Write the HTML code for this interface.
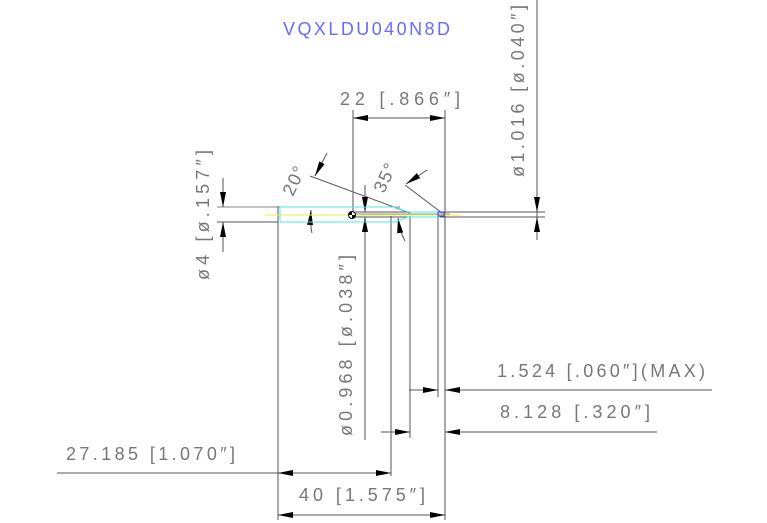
<!DOCTYPE html>
<html><head><style>
html,body{margin:0;padding:0;background:#fff;}
svg{display:block;}
text{font-family:"Liberation Sans",sans-serif;fill:#777;font-size:18px;}
</style></head><body>
<svg width="767" height="523" viewBox="0 0 767 523" xmlns="http://www.w3.org/2000/svg">
<defs>
<marker id="a" viewBox="0 0 10 4" refX="10" refY="2" markerWidth="16" markerHeight="6" markerUnits="userSpaceOnUse" orient="auto"><path d="M0,0L10,2L0,4z" fill="#000"/></marker>
</defs>
<g stroke="#555" stroke-width="1" fill="none">
<line x1="278" y1="206" x2="278" y2="520"/>
<line x1="391" y1="216" x2="391" y2="476"/>
<line x1="410" y1="216" x2="410" y2="438"/>
<line x1="438" y1="214" x2="438" y2="397"/>
<line x1="445" y1="110" x2="445" y2="520"/>
<line x1="353" y1="110" x2="353" y2="213"/>
<line x1="537" y1="0" x2="537" y2="240"/>
<line x1="355" y1="212" x2="545" y2="212"/>
<line x1="355" y1="217" x2="545" y2="217"/>
<line x1="217" y1="207" x2="400" y2="207" stroke="#888"/>
<line x1="217" y1="222" x2="278" y2="222"/>
<line x1="355" y1="214" x2="450" y2="214" stroke="#999"/>
<line x1="310" y1="176" x2="410" y2="213"/>
<line x1="405" y1="185" x2="442" y2="213"/>
<path d="M312,233 Q310,225 311,210" marker-end="url(#a)"/>
<path d="M405,241 Q400,232 398,218" marker-end="url(#a)"/>
<path d="M327,153 L315,176" marker-end="url(#a)"/>
<path d="M427,170 L406,184" marker-end="url(#a)"/>
<line x1="223" y1="178" x2="223" y2="207" marker-end="url(#a)"/>
<line x1="223" y1="252" x2="223" y2="222" marker-end="url(#a)"/>
<line x1="365" y1="185" x2="365" y2="212" marker-end="url(#a)"/>
<line x1="365" y1="440" x2="365" y2="217" marker-end="url(#a)"/>
<line x1="537" y1="175" x2="537" y2="212" marker-end="url(#a)"/>
<line x1="537" y1="240" x2="537" y2="217" marker-end="url(#a)"/>
<line x1="400" y1="118" x2="353" y2="118" marker-end="url(#a)"/>
<line x1="400" y1="118" x2="445" y2="118" marker-end="url(#a)"/>
<line x1="409" y1="390" x2="438" y2="390" marker-end="url(#a)"/>
<line x1="712" y1="390" x2="445" y2="390" marker-end="url(#a)"/>
<line x1="381" y1="432" x2="410" y2="432" marker-end="url(#a)"/>
<line x1="657" y1="432" x2="445" y2="432" marker-end="url(#a)"/>
<line x1="57" y1="473" x2="391" y2="473" marker-end="url(#a)"/>
<line x1="330" y1="473" x2="278" y2="473" marker-end="url(#a)"/>
<line x1="360" y1="515" x2="278" y2="515" marker-end="url(#a)"/>
<line x1="360" y1="515" x2="445" y2="515" marker-end="url(#a)"/>
</g>
<g fill="none" stroke-width="1">
<path d="M280,207 L395,207 L408,212 L440,212 M280,222 L395,222 L408,217 L440,217 M280,207 L280,222" stroke="#4ee"/>
<line x1="265" y1="215" x2="460" y2="215" stroke="#ee4"/>
<rect x="438" y="212" width="6" height="4" stroke="#33f"/>
</g>
<circle cx="352" cy="215" r="3.5" fill="#fff" stroke="#000"/>
<path d="M352,215 L352,211.5 A3.5,3.5 0 0 0 348.5,215z M352,215 L352,218.5 A3.5,3.5 0 0 0 355.5,215z" fill="#000"/>
<text x="283" y="35" textLength="167" lengthAdjust="spacing" style="fill:#6a6aff">VQXLDU040N8D</text>
<text x="340" y="105" textLength="120" lengthAdjust="spacing">22 [.866″]</text>
<text x="497" y="377" textLength="208" lengthAdjust="spacing">1.524 [.060″](MAX)</text>
<text x="500" y="418" textLength="150" lengthAdjust="spacing">8.128 [.320″]</text>
<text x="66" y="460" textLength="169" lengthAdjust="spacing">27.185 [1.070″]</text>
<text x="299" y="501" textLength="126" lengthAdjust="spacing">40 [1.575″]</text>
<text transform="translate(524,177) rotate(-90)" textLength="172" lengthAdjust="spacing">ø1.016 [ø.040″]</text>
<text transform="translate(209,280) rotate(-90)" textLength="130" lengthAdjust="spacing">ø4 [ø.157″]</text>
<text transform="translate(352,436) rotate(-90)" textLength="181" lengthAdjust="spacing">ø0.968 [ø.038″]</text>
<text transform="translate(293,197) rotate(-65)" textLength="30" lengthAdjust="spacing">20°</text>
<text transform="translate(384,194) rotate(-65)" textLength="30" lengthAdjust="spacing">35°</text>
</svg>
</body></html>
